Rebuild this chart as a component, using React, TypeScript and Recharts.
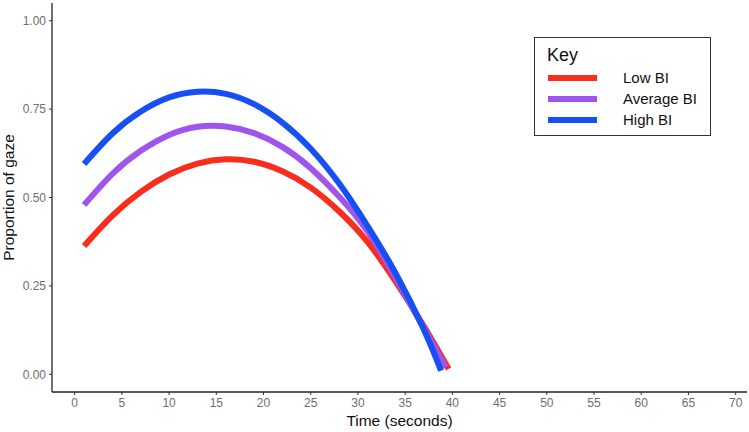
import React from "react";
import { LineChart, Line, XAxis, YAxis, Label } from "recharts";

const xTicks = [0, 5, 10, 15, 20, 25, 30, 35, 40, 45, 50, 55, 60, 65, 70];
const yTicks = [0, 0.25, 0.5, 0.75, 1];

const lowBI = [
  { t: 1, v: 0.363 },
  { t: 4, v: 0.449 },
  { t: 7, v: 0.516 },
  { t: 10, v: 0.565 },
  { t: 13, v: 0.596 },
  { t: 16, v: 0.608 },
  { t: 19, v: 0.601 },
  { t: 22, v: 0.574 },
  { t: 25, v: 0.528 },
  { t: 28, v: 0.461 },
  { t: 31, v: 0.375 },
  { t: 34, v: 0.262 },
  { t: 37, v: 0.135 },
  { t: 39.6, v: 0.015 },
];

const averageBI = [
  { t: 1, v: 0.479 },
  { t: 4, v: 0.567 },
  { t: 7, v: 0.632 },
  { t: 10, v: 0.677 },
  { t: 13, v: 0.7 },
  { t: 16, v: 0.701 },
  { t: 19, v: 0.682 },
  { t: 22, v: 0.643 },
  { t: 25, v: 0.583 },
  { t: 28, v: 0.503 },
  { t: 31, v: 0.405 },
  { t: 34, v: 0.272 },
  { t: 37, v: 0.13 },
  { t: 39.3, v: 0.02 },
];

const highBI = [
  { t: 1, v: 0.595 },
  { t: 4, v: 0.681 },
  { t: 7, v: 0.743 },
  { t: 10, v: 0.783 },
  { t: 13, v: 0.799 },
  { t: 16, v: 0.793 },
  { t: 19, v: 0.764 },
  { t: 22, v: 0.712 },
  { t: 25, v: 0.638 },
  { t: 28, v: 0.54 },
  { t: 31, v: 0.42 },
  { t: 34, v: 0.285 },
  { t: 37, v: 0.125 },
  { t: 38.8, v: 0.01 },
];

const seriesNames = ["Low BI", "Average BI", "High BI"];
const seriesColors = ["#fa2c1c", "#a054ee", "#1650f4"];
const seriesData = [lowBI, averageBI, highBI];

const FONT = "'Liberation Sans', Arial, sans-serif";

const KeyLegend = () => (
  <div
    style={{
      position: "absolute",
      left: 534,
      top: 37,
      width: 177,
      height: 99,
      border: "1.5px solid #333",
      background: "#fff",
      boxSizing: "border-box",
      fontFamily: FONT,
    }}
  >
    <div style={{ position: "absolute", left: 12, top: 7, fontSize: 18, color: "#111" }}>Key</div>
    {seriesNames.map((n, i) => (
      <div key={n} style={{ position: "absolute", left: 0, top: 31 + i * 21, height: 20, width: 175 }}>
        <div
          style={{
            position: "absolute",
            left: 13,
            top: 6,
            width: 49,
            height: 6,
            background: seriesColors[i],
          }}
        />
        <div style={{ position: "absolute", left: 88, top: 0, fontSize: 15, color: "#111", lineHeight: "18px" }}>
          {n}
        </div>
      </div>
    ))}
  </div>
);

export default function App() {
  return (
    <div style={{ position: "absolute", left: 0, top: 0, width: 749, height: 432, background: "#fff" }}>
      <LineChart width={749} height={432} margin={{ top: 3, right: 2, bottom: 0, left: 0 }}>
        <XAxis
          dataKey="t"
          type="number"
          domain={[-2.4, 71.2]}
          allowDataOverflow
          ticks={xTicks}
          interval={0}
          height={40}
          tick={{ fontSize: 12, fill: "#6e6e6e", fontFamily: FONT }}
          tickSize={3}
          tickMargin={3}
          axisLine={{ stroke: "#222", strokeWidth: 1.3 }}
          tickLine={{ stroke: "#333" }}
        >
          <Label
            value="Time (seconds)"
            position="insideBottom"
            offset={6}
            style={{ fontSize: 15.5, fill: "#111", fontFamily: FONT }}
          />
        </XAxis>
        <YAxis
          dataKey="v"
          type="number"
          domain={[-0.05, 1.05]}
          allowDataOverflow
          ticks={yTicks}
          interval={0}
          width={52}
          tickFormatter={(v: number) => v.toFixed(2)}
          tick={{ fontSize: 12, fill: "#6e6e6e", fontFamily: FONT }}
          tickSize={3}
          tickMargin={3}
          axisLine={{ stroke: "#222", strokeWidth: 1.3 }}
          tickLine={{ stroke: "#333" }}
        >
          <Label
            value="Proportion of gaze"
            angle={-90}
            position="insideLeft"
            offset={8}
            style={{ fontSize: 15.5, fill: "#111", fontFamily: FONT, textAnchor: "middle" }}
          />
        </YAxis>
        {seriesData.map((d, i) => (
          <Line
            key={seriesNames[i]}
            data={d}
            dataKey="v"
            name={seriesNames[i]}
            type="natural"
            stroke={seriesColors[i]}
            strokeWidth={6}
            dot={false}
            activeDot={false}
            isAnimationActive={false}
          />
        ))}
      </LineChart>
      <KeyLegend />
    </div>
  );
}
